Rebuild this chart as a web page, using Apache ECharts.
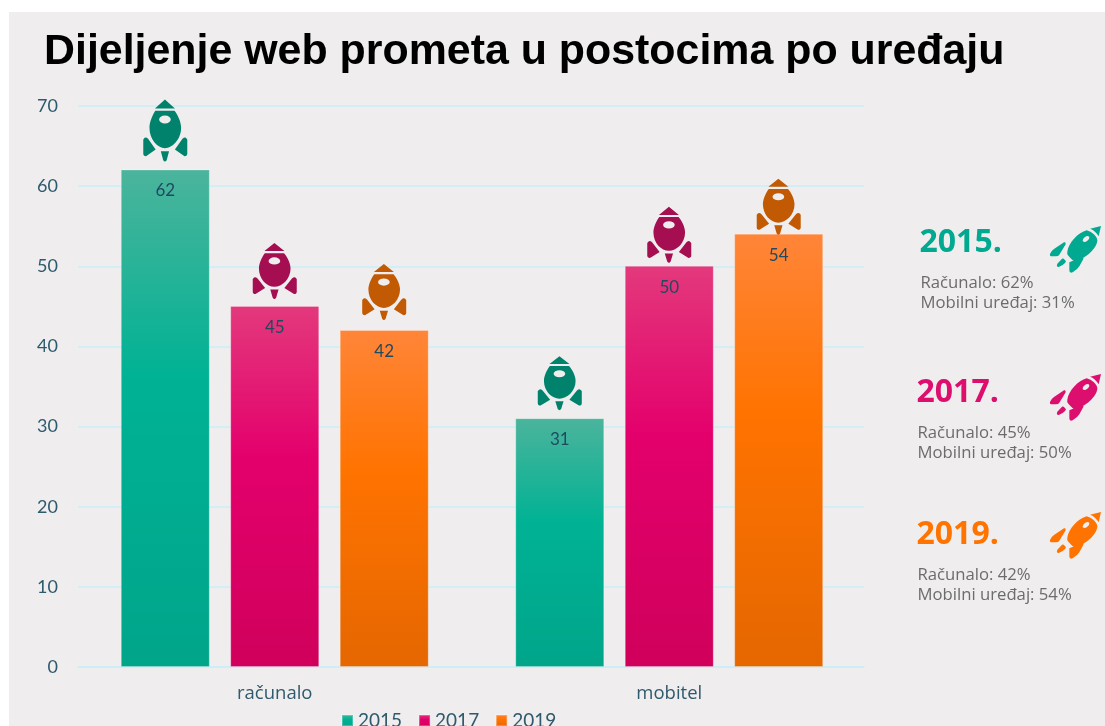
<!DOCTYPE html>
<html><head><meta charset="utf-8">
<style>html,body{margin:0;padding:0;background:#fff}#c{width:1105px;height:726px}</style>
<script src="https://cdn.jsdelivr.net/npm/echarts@6/dist/echarts.min.js"></script>
</head><body><div id="c"></div>
<script>
const titleText = 'Dijeljenje web prometa u postocima po uređaju';
const categories = ['računalo', 'mobitel'];
const years = ['2015', '2017', '2019'];
const values2015 = [62, 31];
const values2017 = [45, 50];
const values2019 = [42, 54];
const yTicks = [0, 10, 20, 30, 40, 50, 60, 70];

const seriesValues = [values2015, values2017, values2019];
const barStops = [
  ['#4bb49c', '#00b294', '#00a58a'],
  ['#e3397c', '#e4006c', '#d0005c'],
  ['#ff8538', '#ff7300', '#e56700']
];
const rocketColors = ['#00826c', '#a50e50', '#c25a04'];
const sideColors = ['#00a98f', '#dc0f6e', '#ff7300'];
// rocket icon height and gap above the bar, per year and category
const rocketHeights = [[62, 54], [56, 56], [56, 56]];
const rocketGaps = [[8, 8], [7, 3], [10, -1]];
const sideTops = [241, 391, 533];
const sideLefts = [920, 917, 917];
const sideRocketTops = [226, 374, 512];

const ROCKET = 'path://M163 30L192 57L134 57Z' +
  'M135 64L191 64C203 80 210 100 210 115C210 150 185 176 163 176C141 176 118 150 118 115C118 100 125 80 135 64Z' +
  'M146 90A17 12 0 0 0 180 90A17 12 0 0 0 146 90Z' +
  'M104 145Q108 142 114 148L136 180L108 200Q100 200 100 192L100 150Z' +
  'M224 145Q220 142 214 148L192 180L220 200Q228 200 228 192L228 150Z' +
  'M151 185L175 185L168 212Q163 220 158 212Z';
const ROCKET_TILT =
  'M150 27L183 19L176 50Q165 32 150 27Z' +
  'M140 32C155 36 172 50 172 62C172 85 135 120 105 124Q98 124 92 116L85 108Q80 102 82 96C85 70 115 38 140 32Z' +
  'M128 64A12 8 -40 0 0 148 52A12 8 -40 0 0 128 64Z' +
  'M30 103Q32 95 42 88L72 68Q78 66 77 74L58 105Q55 110 48 110L36 110Q28 110 30 103Z' +
  'M52 132L66 117Q70 115 74 120L78 125Q76 132 68 136L56 142Q48 142 52 132Z' +
  'M88 128L126 112Q132 112 130 118L118 140Q112 150 98 158Q88 162 88 152Z';
echarts.graphic.registerShape('rocketTilt', echarts.graphic.extendPath(ROCKET_TILT, {}));

const axisText = '#2f5a6b';
const gridColor = '#c8eff9';
const labelFont = 'Lato, "Open Sans", sans-serif';

const barSeries = years.map((y, i) => ({
  type: 'bar', name: y, xAxisIndex: 1, yAxisIndex: 1,
  barWidth: 89, barGap: '23%',
  data: seriesValues[i],
  itemStyle: {
    color: {type: 'linear', x: 0, y: 0, x2: 0, y2: 1, colorStops: [
      {offset: 0, color: barStops[i][0]},
      {offset: 0.42, color: barStops[i][1]},
      {offset: 1, color: barStops[i][2]}
    ]},
    borderColor: 'rgba(255,255,255,0.25)', borderWidth: 1
  },
  label: {show: true, position: 'insideTop', distance: 13, color: '#1f4a60', fontSize: 17, fontFamily: labelFont},
  z: 2
}));
const rocketSeries = years.map((y, i) => ({
  type: 'pictorialBar', name: y, xAxisIndex: 1, yAxisIndex: 1,
  barWidth: 89, barGap: '23%',
  symbol: ROCKET, symbolPosition: 'end',
  itemStyle: {color: rocketColors[i]},
  data: seriesValues[i].map((v, k) => ({
    value: v,
    symbolSize: [44, rocketHeights[i][k]],
    symbolOffset: [0, -(rocketHeights[i][k] + rocketGaps[i][k])]
  })),
  silent: true, z: 3
}));

const graphics = [
  {type: 'rect', z: -10, silent: true, shape: {x: 9, y: 12, width: 1096, height: 714}, style: {fill: '#efedee'}},
  {type: 'text', x: 44, y: 52, style: {text: titleText, fill: '#000', font: 'bold 42.9px "Liberation Sans", Arial, sans-serif', verticalAlign: 'middle'}}
];
years.forEach((y, i) => {
  const t = sideTops[i], l = sideLefts[i];
  const row1 = 'Računalo: ' + seriesValues[i][0] + '%';
  const row2 = 'Mobilni uređaj: ' + seriesValues[i][1] + '%';
  graphics.push({type: 'text', x: l - 0.5, y: t + 2, style: {text: y + '.', fill: sideColors[i], font: 'bold 32px "Open Sans", sans-serif', verticalAlign: 'middle'}});
  graphics.push({type: 'text', x: l + 0.5, y: t + 42, style: {text: row1, fill: '#6c6c6c', font: '16.7px "Open Sans", sans-serif', verticalAlign: 'middle'}});
  graphics.push({type: 'text', x: l + 0.5, y: t + 62, style: {text: row2, fill: '#6c6c6c', font: '16.7px "Open Sans", sans-serif', verticalAlign: 'middle'}});
  graphics.push({type: 'rocketTilt', x: 1040, y: sideRocketTops[i] - 6.3, scaleX: 1 / 3, scaleY: 1 / 3, style: {fill: sideColors[i]}});
});

const chart = echarts.init(document.getElementById('c'), null, {renderer: 'canvas'});
chart.setOption({
  animation: false,
  backgroundColor: '#fff',
  grid: [
    {left: 78, top: 106, width: 786, height: 561},
    {left: 77.5, top: 105.3, width: 789, height: 561.7}
  ],
  xAxis: [
    {type: 'category', gridIndex: 0, data: categories, axisLabel: {show: false}, axisTick: {show: false},
     axisLine: {show: true, lineStyle: {color: gridColor, width: 1.5}}},
    {type: 'category', gridIndex: 1, data: categories, axisLine: {show: false}, axisTick: {show: false},
     axisLabel: {color: axisText, fontSize: 18.5, fontFamily: '"Open Sans", sans-serif', margin: 17}}
  ],
  yAxis: [
    {type: 'value', gridIndex: 0, min: 0, max: 70, interval: 10,
     axisLine: {show: false}, axisTick: {show: false},
     axisLabel: {color: axisText, fontSize: 18, fontFamily: labelFont, margin: 20,
       formatter: v => yTicks.includes(v) ? String(v) : ''},
     splitLine: {show: true, lineStyle: {color: gridColor, width: 1.5}}},
    {type: 'value', gridIndex: 1, min: 0, max: 70, interval: 10, show: false, splitLine: {show: false}}
  ],
  legend: {
    data: years.map(name => ({name, icon: 'rect'})),
    left: 341, top: 711, itemWidth: 11, itemHeight: 11, itemGap: 16, padding: 0,
    textStyle: {color: axisText, fontSize: 19, fontFamily: labelFont},
    selectedMode: false
  },
  series: [...barSeries, ...rocketSeries],
  graphic: graphics
});
</script></body></html>
